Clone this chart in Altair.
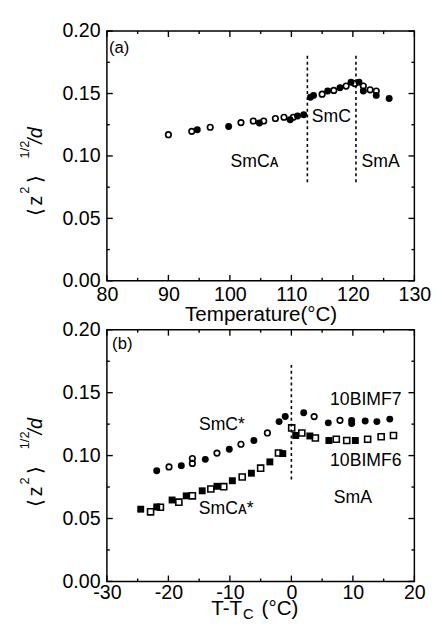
import altair as alt
import pandas as pd

FONT = "Liberation Sans"

# ---------------- panel (a) data ----------------
a_open_T = [90.0, 93.8, 96.8, 101.8, 103.8, 105.5, 107.4, 108.8, 110.3,
            115.0, 116.9, 118.9, 120.3, 121.7, 122.8, 123.8]
a_open_v = [0.117, 0.1197, 0.123, 0.1267, 0.128, 0.128, 0.130, 0.131, 0.131,
            0.1495, 0.1525, 0.156, 0.158, 0.156, 0.153, 0.152]
a_fill_T = [94.7, 99.8, 104.8, 109.8, 111.0, 112.0, 113.1, 113.6, 115.9,
            117.9, 119.7, 121.0, 121.7, 123.8, 125.9]
a_fill_v = [0.121, 0.1236, 0.1264, 0.129, 0.132, 0.133, 0.147, 0.1485, 0.152,
            0.1546, 0.159, 0.159, 0.152, 0.1485, 0.146]
a_vline_T = [112.6, 120.5]
a_vline_lo = [0.079, 0.079]
a_vline_hi = [0.1815, 0.1815]
a_labels = ["SmC\u1d00", "SmC", "SmA"]
a_label_T = [104.0, 116.5, 124.5]
a_label_v = [0.095, 0.131, 0.095]
a_panel = "(a)"
a_panel_T = 82.0
a_panel_v = 0.1865
a_xmajor = [80, 90, 100, 110, 120, 130]
a_xminor = [85, 95, 105, 115, 125]
a_xtitle = "Temperature(°C)"

# ---------------- panel (b) data ----------------
b7_fill_x = [-21.9, -17.9, -14.0, -10.1, -6.1, -2.0, -1.0, 2.0, 6.0, 9.8, 9.8, 12.0, 13.9, 16.0]
b7_fill_v = [0.088, 0.092, 0.097, 0.105, 0.112, 0.127, 0.131, 0.134, 0.126, 0.128, 0.1255,
             0.1275, 0.127, 0.129]
b7_open_x = [-19.9, -16.1, -16.1, -12.1, -8.2, -3.9, 3.7, 7.9]
b7_open_v = [0.091, 0.0977, 0.0938, 0.102, 0.109, 0.118, 0.131, 0.128]
b6_fill_x = [-24.5, -21.9, -19.4, -17.1, -14.5, -12.1, -9.6, -6.5, -3.5, -1.4, 0.7, 3.0, 6.1, 10.4]
b6_fill_v = [0.0574, 0.0592, 0.0647, 0.068, 0.072, 0.0756, 0.080, 0.086, 0.095, 0.1016,
             0.116, 0.1156, 0.112, 0.112]
b6_open_x = [-22.9, -21.3, -18.3, -16.1, -13.1, -11.0, -8.0, -5.0, -2.1, 0.05, 1.7, 3.9,
             7.3, 9.0, 12.4, 14.6, 16.6]
b6_open_v = [0.0553, 0.059, 0.063, 0.068, 0.0735, 0.0753, 0.083, 0.090, 0.102, 0.122,
             0.118, 0.114, 0.113, 0.112, 0.113, 0.115, 0.116]
b_vline_x = [0.0]
b_vline_lo = [0.081]
b_vline_hi = [0.172]
b_labels = ["SmC*", "SmC\u1d00*", "10BIMF7", "10BIMF6", "SmA"]
b_label_x = [-11.3, -10.6, 12.1, 12.1, 10.0]
b_label_v = [0.1244, 0.0574, 0.1444, 0.0956, 0.066]
b_panel = "(b)"
b_panel_x = -27.5
b_panel_v = 0.1886
b_xmajor = [-30, -20, -10, 0, 10, 20]
b_xminor = [-25, -15, -5, 5, 15]

y_major = [0.0, 0.05, 0.10, 0.15, 0.20]
y_minor = [0.025, 0.075, 0.125, 0.175]

W = 314
MAJ = 6
MIN = 3


def one():
    return alt.Chart(pd.DataFrame({"k": [0]}))


def panel(xdom, xmajor, xminor, series, vx, vlo, vhi, labels, lx, ly,
          ptxt, px, py, h, xtitle, tshift, lpad):
    xaxis = alt.Axis(values=xmajor, ticks=False, domain=False, grid=False,
                     labelPadding=lpad, titlePadding=0, labelFlush=False,
                     labelFont=FONT, labelFontSize=20, labelColor="black",
                     titleFont=FONT, titleFontSize=21, titleFontWeight="normal",
                     titleColor="black",
                     labelExpr="datum.value < 0 ? '-' + abs(datum.value) : '' + datum.value")
    yaxis = alt.Axis(values=y_major, format=".2f", ticks=False, domain=False,
                     grid=False, labelPadding=7, title=None, labelFlush=False,
                     labelFont=FONT, labelFontSize=20, labelColor="black")
    if xtitle:
        X = lambda f: alt.X(f, type="quantitative", scale=alt.Scale(domain=xdom, nice=False, zero=False),
                            axis=xaxis, title=xtitle)
    else:
        X = lambda f: alt.X(f, type="quantitative", scale=alt.Scale(domain=xdom, nice=False, zero=False),
                            axis=xaxis, title=None)
    Y = lambda f: alt.Y(f, type="quantitative", scale=alt.Scale(domain=[0, 0.2], nice=False),
                        axis=yaxis)

    layers = []
    for xs, vs, kind in series:
        df = pd.DataFrame({"x": xs, "y": vs})
        base = alt.Chart(df)
        if kind == "fc":
            m = base.mark_circle(color="black", opacity=1, size=50)
        elif kind == "oc":
            m = base.mark_point(shape="circle", filled=False, color="black",
                                strokeWidth=1.7, size=32, opacity=1)
        elif kind == "fs":
            m = base.mark_square(color="black", opacity=1, size=50)
        else:
            m = base.mark_point(shape="square", filled=False, color="black",
                                strokeWidth=1.6, size=38, opacity=1)
        layers.append(m.encode(x=X("x"), y=Y("y")))

    vdf = pd.DataFrame({"x": vx, "y": vlo, "y2": vhi})
    layers.append(alt.Chart(vdf).mark_rule(color="black", strokeWidth=1.6,
                                           strokeDash=[3, 3]).encode(
        x=X("x"), y=Y("y"), y2="y2"))

    ldf = pd.DataFrame({"x": lx, "y": ly, "t": labels})
    layers.append(alt.Chart(ldf).mark_text(font=FONT, fontSize=18, color="black",
                                           align="center", baseline="middle").encode(
        x=X("x"), y=Y("y"), text="t"))
    pdf = pd.DataFrame({"x": [px], "y": [py], "t": [ptxt]})
    layers.append(alt.Chart(pdf).mark_text(font=FONT, fontSize=17, color="black",
                                           align="center", baseline="middle").encode(
        x=X("x"), y=Y("y"), text="t"))

    # inward ticks on all four sides
    for vals, ln in ((xmajor, MAJ), (xminor, MIN)):
        tdf = pd.DataFrame({"x": vals})
        layers.append(alt.Chart(tdf).mark_rule(color="black", strokeWidth=1.4).encode(
            x=X("x"), y=alt.value(h), y2=alt.value(h - ln)))
        layers.append(alt.Chart(tdf).mark_rule(color="black", strokeWidth=1.4).encode(
            x=X("x"), y=alt.value(0), y2=alt.value(ln)))
    for vals, ln in ((y_major, MAJ), (y_minor, MIN)):
        tdf = pd.DataFrame({"y": vals})
        layers.append(alt.Chart(tdf).mark_rule(color="black", strokeWidth=1.4).encode(
            y=Y("y"), x=alt.value(0), x2=alt.value(ln)))
        layers.append(alt.Chart(tdf).mark_rule(color="black", strokeWidth=1.4).encode(
            y=Y("y"), x=alt.value(W), x2=alt.value(W - ln)))

    # y-axis title  <z^2>^(1/2)/d  built from rotated pieces
    pieces = [("\u27e8", -66, 189, 20, "normal"),
              ("z", -66, 178, 20, "normal"),
              ("2", -80, 166, 13, "normal"),
              ("\u27e9", -66, 155, 20, "normal"),
              ("1/2", -80, 130, 13, "normal"),
              ("/d", -66, 115, 20, "italic")]
    for t, xx, yy, fs, st in pieces:
        layers.append(one().mark_text(text=t, font=FONT, fontSize=fs, fontStyle=st,
                                      color="black", angle=270, align="left",
                                      baseline="alphabetic").encode(
            x=alt.value(xx), y=alt.value(yy + tshift)))

    if not xtitle:
        for t, xx, yy, fs, al in (("T-T", 138, h + 34, 21, "right"),
                                  ("C", 139, h + 38, 15, "left"),
                                  ("(°C)", 158, h + 34, 21, "left")):
            layers.append(one().mark_text(text=t, font=FONT, fontSize=fs, color="black",
                                          align=al, baseline="alphabetic").encode(
                x=alt.value(xx), y=alt.value(yy)))

    return alt.layer(*layers).properties(width=W, height=h)


pa = panel([80, 130], a_xmajor, a_xminor,
           [(a_open_T, a_open_v, "oc"), (a_fill_T, a_fill_v, "fc")],
           a_vline_T, a_vline_lo, a_vline_hi, a_labels, a_label_T, a_label_v,
           a_panel, a_panel_T, a_panel_v, 255, a_xtitle, 0, 4)
pb = panel([-30, 20], b_xmajor, b_xminor,
           [(b7_open_x, b7_open_v, "oc"), (b7_fill_x, b7_fill_v, "fc"),
            (b6_open_x, b6_open_v, "os"), (b6_fill_x, b6_fill_v, "fs")],
           b_vline_x, b_vline_lo, b_vline_hi, b_labels, b_label_x, b_label_v,
           b_panel, b_panel_x, b_panel_v, 257, "", -8, 1)

chart = alt.vconcat(pa, pb, spacing=50, bounds="flush").properties(
    padding={"left": 10, "top": 6, "right": 0, "bottom": 0},
    background="white"
).configure_view(stroke="black", strokeWidth=1.5)

chart.save("out.html", embed_options={"renderer": "svg", "actions": False})
